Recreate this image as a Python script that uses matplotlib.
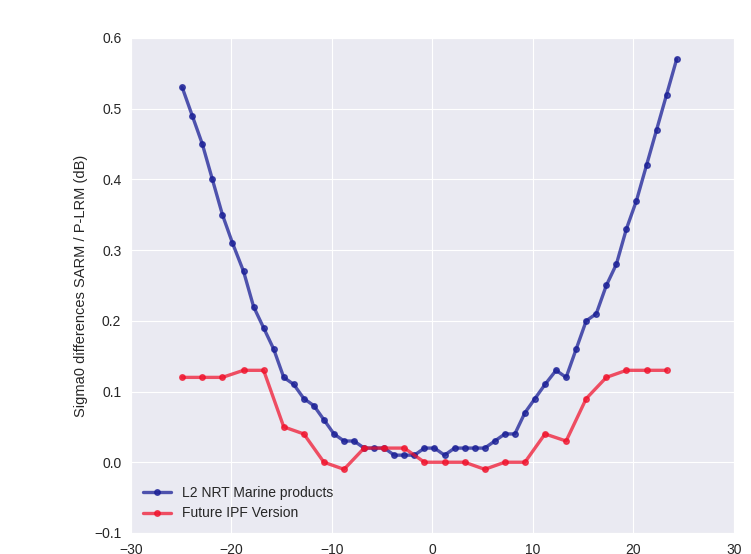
import matplotlib
matplotlib.use("Agg")
import matplotlib.pyplot as plt
import seaborn as sns

sns.set_style("darkgrid")
plt.rcParams['font.family'] = ['Liberation Sans', 'DejaVu Sans']

# Along-track position of each bin
positions = [-24.9, -23.9, -22.9, -21.9, -20.9, -19.9, -18.8, -17.8, -16.8, -15.8,
             -14.8, -13.8, -12.8, -11.8, -10.8, -9.8, -8.8, -7.8, -6.8, -5.8,
             -4.8, -3.8, -2.8, -1.8, -0.8, 0.2, 1.2, 2.2, 3.2, 4.2,
             5.2, 6.2, 7.2, 8.2, 9.2, 10.2, 11.2, 12.3, 13.3, 14.3,
             15.3, 16.3, 17.3, 18.3, 19.3, 20.3, 21.3, 22.3, 23.3, 24.3]

# L2 NRT Marine products: sigma0 difference per bin (dB)
nrt_marine = [0.53, 0.49, 0.45, 0.40, 0.35, 0.31, 0.27, 0.22, 0.19, 0.16,
              0.12, 0.11, 0.09, 0.08, 0.06, 0.04, 0.03, 0.03, 0.02, 0.02,
              0.02, 0.01, 0.01, 0.01, 0.02, 0.02, 0.01, 0.02, 0.02, 0.02,
              0.02, 0.03, 0.04, 0.04, 0.07, 0.09, 0.11, 0.13, 0.12, 0.16,
              0.20, 0.21, 0.25, 0.28, 0.33, 0.37, 0.42, 0.47, 0.52, 0.57]

# Future IPF version: every second bin
ipf_positions = [-24.9, -22.9, -20.9, -18.8, -16.8, -14.8, -12.8, -10.8, -8.8, -6.8,
                 -4.8, -2.8, -0.8, 1.2, 3.2, 5.2, 7.2, 9.2, 11.2, 13.3,
                 15.3, 17.3, 19.3, 21.3, 23.3]
future_ipf = [0.12, 0.12, 0.12, 0.13, 0.13, 0.05, 0.04, 0.00, -0.01, 0.02,
              0.02, 0.02, 0.00, 0.00, 0.00, -0.01, 0.00, 0.00, 0.04, 0.03,
              0.09, 0.12, 0.13, 0.13, 0.13]

fig = plt.figure(figsize=(7.51, 5.54), dpi=100)
ax = fig.add_axes([0.1744, 0.038, 0.8029, 0.8935])

ax.plot(positions, nrt_marine, color='#1a1f96', alpha=0.75, lw=2.4,
        marker='o', ms=4, label='L2 NRT Marine products')
ax.plot(ipf_positions, future_ipf, color='#f0102a', alpha=0.72, lw=2.4,
        marker='o', ms=4, label='Future IPF Version')

ax.set_xlim(-30, 30)
ax.set_ylim(-0.1, 0.6)
ax.set_xticks([-30, -20, -10, 0, 10, 20, 30])
ax.set_yticks([-0.1, 0.0, 0.1, 0.2, 0.3, 0.4, 0.5, 0.6])
ax.set_yticklabels(['\u22120.1', '0.0', '0.1', '0.2', '0.3', '0.4', '0.5', '0.6'])
ax.tick_params(labelsize=10, colors='#262626')
ax.set_ylabel('Sigma0 differences SARM / P-LRM (dB)', fontsize=10.5, color='#262626')
ax.legend(loc='lower left', fontsize=10, frameon=False)

fig.savefig('out.png', dpi=100)
